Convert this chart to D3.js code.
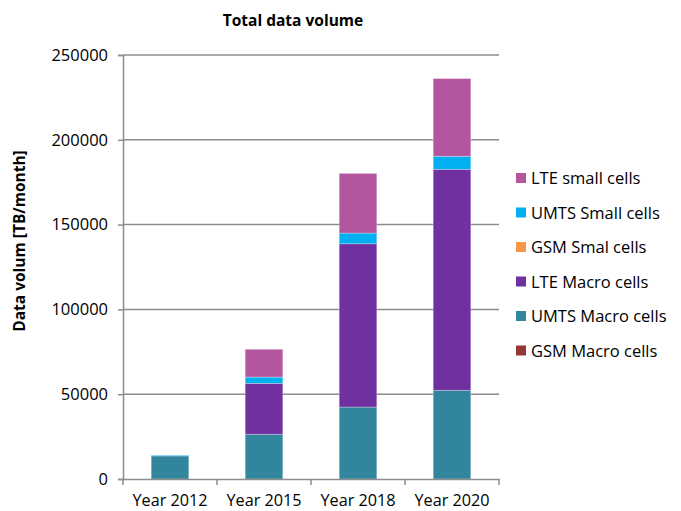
<!DOCTYPE html>
<html><head><meta charset="utf-8">
<script src="https://cdn.jsdelivr.net/npm/d3@7"></script>
<style>body{margin:0;background:#fff;} text{font-family:"Open Sans","Liberation Sans",sans-serif;}</style>
</head><body>
<svg id="c" width="681" height="511"></svg>
<script>
const categories = ["Year 2012","Year 2015","Year 2018","Year 2020"];
const seriesNames = ["GSM Macro cells","UMTS Macro cells","LTE Macro cells","GSM Smal cells","UMTS Small cells","LTE small cells"];
const seriesColors = ["#953735","#31859C","#7030A0","#F79646","#00B0F0","#B455A0"];
const gsmMacro   = [0, 0, 0, 0];
const umtsMacro  = [13600, 26400, 42400, 52300];
const lteMacro   = [0, 30000, 96300, 130300];
const gsmSmall   = [0, 0, 0, 0];
const umtsSmall  = [400, 3700, 6300, 7700];
const lteSmall   = [0, 16400, 35200, 45800];
const yTicks = [0, 50000, 100000, 150000, 200000, 250000];

const seriesValues = [gsmMacro, umtsMacro, lteMacro, gsmSmall, umtsSmall, lteSmall];
const table = categories.map((c,i)=>{const o={cat:c}; seriesNames.forEach((s,j)=>o[s]=seriesValues[j][i]); return o;});

const svg = d3.select("#c");
const m = {l:123, r:499, t:55, b:479};
const x = d3.scaleBand().domain(categories).range([m.l, m.r]).paddingInner(0.6).paddingOuter(0.3);
const y = d3.scaleLinear().domain([0,250000]).range([m.b, m.t]);

// gridlines
svg.append("g").selectAll("line").data(yTicks.filter(d=>d>0)).join("line")
  .attr("x1", m.l).attr("x2", m.r).attr("y1", d=>y(d)).attr("y2", d=>y(d))
  .attr("stroke", "#8c8c8c").attr("stroke-width", 1.5);

const stack = d3.stack().keys(seriesNames)(table);
svg.append("g").selectAll("g").data(stack).join("g")
  .attr("fill", (d,i)=>seriesColors[i])
  .selectAll("rect").data(d=>d).join("rect")
  .attr("x", d=>x(d.data.cat)).attr("width", x.bandwidth())
  .attr("y", d=>y(d[1])).attr("height", d=>Math.max(0, y(d[0])-y(d[1])))
  .attr("stroke", "rgba(255,255,255,0.35)").attr("stroke-width", 0.8);

// y axis
const ya = svg.append("g").attr("transform", `translate(${m.l},0)`)
  .call(d3.axisLeft(y).tickValues(yTicks).tickSize(5).tickPadding(10).tickFormat(d3.format("d")));
ya.select(".domain").attr("stroke","#8c8c8c").attr("stroke-width",1.5);
ya.selectAll(".tick line").attr("stroke","#8c8c8c").attr("stroke-width",1.5);
ya.selectAll("text").attr("font-size","16.5px").attr("fill","#000");

// x axis
const xa = svg.append("g").attr("transform", `translate(0,${m.b})`)
  .call(d3.axisBottom(x).tickSize(0).tickPadding(15));
xa.select(".domain").attr("stroke","#8c8c8c").attr("stroke-width",1.5);
xa.selectAll("text").attr("font-size","16.2px").attr("fill","#000");
const bounds = d3.range(categories.length+1).map(i=>m.l + i*(m.r-m.l)/categories.length);
svg.append("g").selectAll("line").data(bounds).join("line")
  .attr("x1", d=>d).attr("x2", d=>d).attr("y1", m.b).attr("y2", m.b+6)
  .attr("stroke","#8c8c8c").attr("stroke-width",1.5);

// title
svg.append("text").attr("x", 293).attr("y", 26).attr("text-anchor","middle")
  .attr("font-size","15.5px").attr("font-weight","bold").text("Total data volume");

// y label
svg.append("text").attr("transform","translate(25,241) rotate(-90)").attr("text-anchor","middle")
  .attr("font-size","15.5px").attr("font-weight","bold").text("Data volum [TB/month]");

// legend
const legendOrder = [5,4,3,2,1,0];
const lg = svg.append("g").selectAll("g").data(legendOrder).join("g")
  .attr("transform",(d,i)=>`translate(516,${178 + i*34.5})`);
lg.append("rect").attr("x",0).attr("y",-5).attr("width",10).attr("height",10).attr("fill",d=>seriesColors[d]);
lg.append("text").attr("x",15).attr("y",6).attr("font-size","16.5px").text(d=>seriesNames[d]);
</script>
</body></html>
